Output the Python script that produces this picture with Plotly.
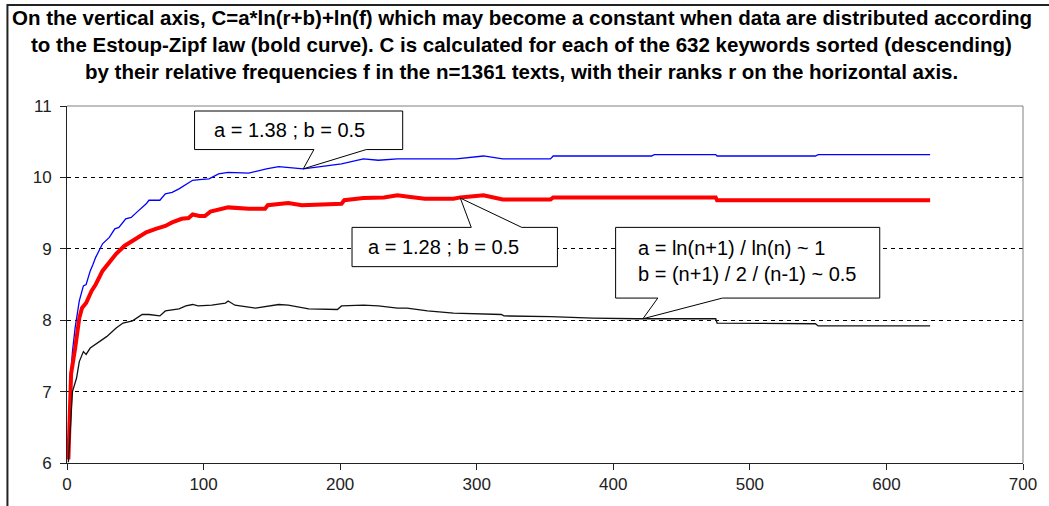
"""
Estoup-Zipf constant C = a*ln(r+b) + ln(f) against keyword rank r
"""

import plotly.graph_objects as go

# ranks and C values, one list pair per curve
ranks_138 = [1, 2, 3, 4, 6, 9, 12, 14, 17, 19, 21, 26, 31, 35, 38, 43, 47, 51, 58, 60,
             68, 72, 77, 82, 86, 92, 97, 104, 111, 118, 133, 146, 155, 173, 201, 217,
             228, 242, 285, 305, 319, 354, 356, 428, 430, 475, 476, 548, 550, 632]
c_138 = [6.10, 6.90, 7.30, 7.56, 7.90, 8.27, 8.48, 8.50, 8.69, 8.78, 8.88, 9.07, 9.16,
         9.28, 9.30, 9.42, 9.44, 9.51, 9.63, 9.68, 9.68, 9.77, 9.79, 9.84, 9.89, 9.96,
         9.97, 9.98, 10.05, 10.07, 10.06, 10.12, 10.15, 10.12, 10.19, 10.26, 10.24,
         10.26, 10.26, 10.30, 10.26, 10.26, 10.30, 10.30, 10.32, 10.32, 10.30, 10.30,
         10.32, 10.32]

ranks_128 = [1, 2, 3, 6, 9, 11, 14, 18, 21, 26, 31, 36, 42, 48, 58, 65, 72, 77, 84, 89,
             92, 97, 101, 105, 118, 133, 145, 147, 162, 172, 201, 203, 217, 232, 242,
             250, 262, 283, 288, 305, 319, 354, 356, 475, 476, 632]
c_128 = [6.05, 6.85, 7.25, 7.61, 8.03, 8.17, 8.24, 8.41, 8.50, 8.69, 8.81, 8.93, 9.04,
         9.11, 9.23, 9.28, 9.32, 9.37, 9.42, 9.43, 9.48, 9.46, 9.46, 9.52, 9.58, 9.56,
         9.56, 9.61, 9.64, 9.61, 9.63, 9.68, 9.71, 9.72, 9.75, 9.73, 9.70, 9.70, 9.72,
         9.75, 9.69, 9.69, 9.72, 9.72, 9.68, 9.68]

ranks_1 = [1, 2, 3, 4, 7, 9, 12, 14, 17, 21, 29, 36, 41, 48, 55, 60, 68, 72, 82, 87,
           92, 96, 106, 116, 118, 123, 138, 155, 162, 177, 198, 201, 217, 228, 242, 249,
           264, 283, 318, 320, 354, 385, 417, 475, 476, 548, 550, 632]
c_1 = [6.01, 6.39, 6.81, 7.00, 7.19, 7.42, 7.56, 7.52, 7.61, 7.66, 7.77, 7.89, 7.96,
       7.99, 8.08, 8.08, 8.06, 8.13, 8.16, 8.20, 8.22, 8.20, 8.21, 8.24, 8.27, 8.21,
       8.17, 8.22, 8.21, 8.16, 8.15, 8.20, 8.21, 8.20, 8.17, 8.17, 8.13, 8.10, 8.08,
       8.06, 8.05, 8.03, 8.02, 8.02, 7.96, 7.95, 7.92, 7.92]

title_lines = [
    "On the vertical axis, C=a*ln(r+b)+ln(f) which may become a constant when data are distributed according",
    "to the Estoup-Zipf law (bold curve). C is calculated for each of the 632 keywords sorted (descending)",
    "by their relative frequencies f in the n=1361 texts, with their ranks r on the horizontal axis.",
]
callout_texts = [
    "a = 1.38 ; b = 0.5",
    "a = 1.28 ; b = 0.5",
    "a = ln(n+1) / ln(n) ~ 1<br>b = (n+1) / 2 / (n-1) ~ 0.5",
]

FONT = "Arial, Liberation Sans, sans-serif"


def callout_path(x0, x1, y_bot, y_top, base_l, base_r, tip, pointer="bottom"):
    """Excel-like rectangular callout with a wedge pointing at tip"""
    tx, ty = tip
    if pointer == "bottom":
        pts = [(x0, y_top), (x1, y_top), (x1, y_bot), (base_r, y_bot), (tx, ty),
               (base_l, y_bot), (x0, y_bot)]
    else:
        pts = [(x0, y_bot), (x0, y_top), (base_l, y_top), (tx, ty), (base_r, y_top),
               (x1, y_top), (x1, y_bot)]
    return "M " + " L ".join(f"{x},{y}" for x, y in pts) + " Z"


fig = go.Figure()

fig.add_trace(go.Scatter(x=ranks_138, y=c_138, mode="lines",
                         line=dict(color="#0000ff", width=1.3), name="a=1.38"))
fig.add_trace(go.Scatter(x=ranks_128, y=c_128, mode="lines",
                         line=dict(color="#ff0000", width=4), name="a=1.28"))
fig.add_trace(go.Scatter(x=ranks_1, y=c_1, mode="lines",
                         line=dict(color="#111111", width=1.3), name="a~1"))

# callout boxes (data coordinates)
callouts = [
    callout_path(93.4, 245.8, 10.39, 10.93, 180.8, 219.1, (173, 10.12), "bottom"),
    callout_path(208.7, 359.1, 8.75, 9.30, 296, 333, (288, 9.71), "top"),
    callout_path(401.7, 595.1, 8.31, 9.30, 432.6, 479.9, (421.7, 8.02), "bottom"),
]
for p in callouts:
    fig.add_shape(type="path", path=p, xref="x", yref="y", layer="above",
                  fillcolor="white", line=dict(color="black", width=1))

text_pos = [(106, 10.66), (219.1, 9.02), (416.8, 8.834)]
for txt, (tx, ty) in zip(callout_texts, text_pos):
    fig.add_annotation(x=tx, y=ty, xref="x", yref="y", text=txt, showarrow=False,
                       xanchor="left", yanchor="middle", align="left",
                       font=dict(family=FONT, size=20, color="black"))

# title, one annotation per line
for i, line in enumerate(title_lines):
    fig.add_annotation(x=0.4756, y=1.2465 - i * 0.0756, xref="paper", yref="paper",
                       text="<b>" + line + "</b>", showarrow=False,
                       xanchor="center", yanchor="middle",
                       font=dict(family=FONT, size=20.5, color="black"))

# plot area top/right border in gray, chart frame
fig.add_shape(type="line", xref="paper", yref="paper", x0=0, x1=1, y0=1, y1=1,
              line=dict(color="#808080", width=1), layer="above")
fig.add_shape(type="line", xref="paper", yref="paper", x0=1, x1=1, y0=0, y1=1,
              line=dict(color="#808080", width=1), layer="above")
fig.add_shape(type="rect", xref="paper", yref="paper", x0=-0.0623, x1=1.2,
              y0=-0.5, y1=1.283, line=dict(color="#222222", width=2), layer="below")

fig.update_layout(
    width=1049, height=506,
    margin=dict(l=67, r=19, t=106, b=43),
    paper_bgcolor="white", plot_bgcolor="white",
    showlegend=False,
    font=dict(family=FONT, size=17, color="#222222"),
)
fig.update_xaxes(range=[0, 700], dtick=100, showgrid=False, zeroline=False,
                 showline=True, linecolor="#222222", linewidth=1,
                 ticks="outside", ticklen=6, tickcolor="#222222",
                 tickfont=dict(size=17, color="#222222"))
fig.update_yaxes(range=[6, 11], dtick=1, showgrid=True, gridcolor="black",
                 griddash="4px,4px", gridwidth=1, zeroline=False,
                 showline=True, linecolor="#222222", linewidth=1,
                 ticks="outside", ticklen=6, tickcolor="#222222",
                 ticklabelstandoff=5,
                 tickfont=dict(size=17, color="#222222"))

# page body has a default 8px margin; drop it so the figure sits at the corner
fig.write_html("out.html", config={"displayModeBar": False},
               post_script="document.body.style.margin='0px';")
